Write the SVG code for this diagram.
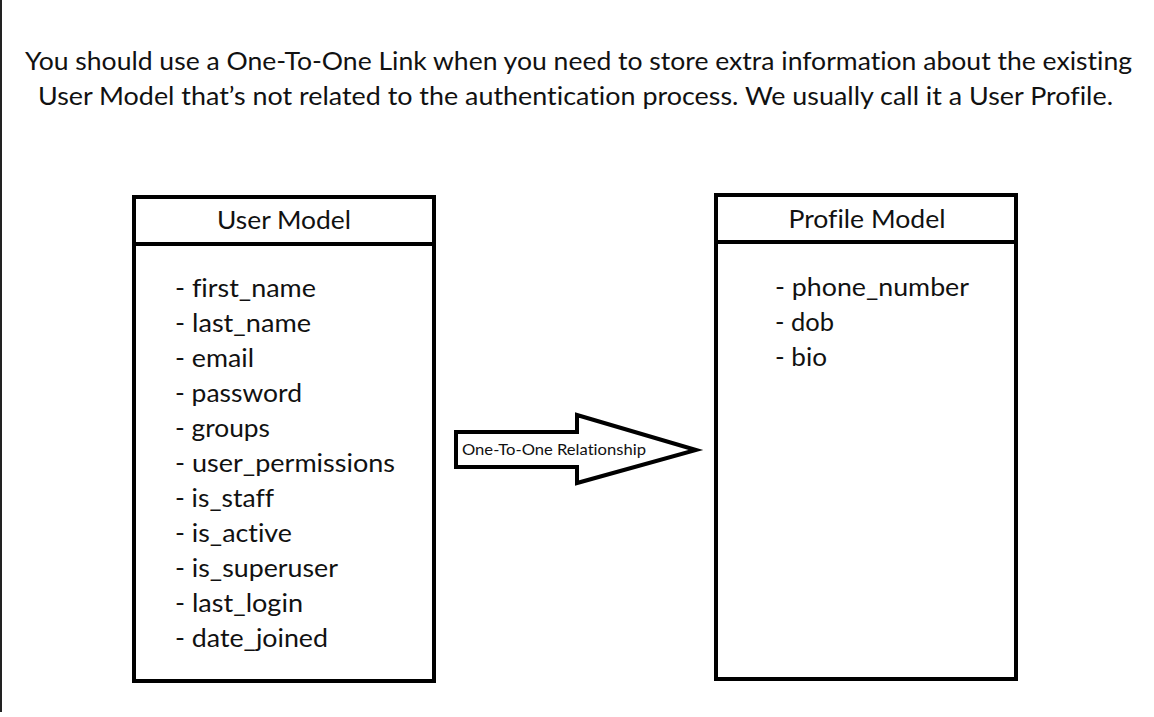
<svg xmlns="http://www.w3.org/2000/svg" width="1154" height="717" viewBox="0 0 1154 717">
<style>
text{font-family:Lato,"Open Sans","Noto Sans",sans-serif;fill:#111;font-variant-ligatures:none}
.t{font-size:25px}
.f{font-size:25px}
.h{font-size:25px;text-anchor:middle}
.box{fill:#fff;stroke:#000;stroke-width:4}
.lbl{font-size:15px}
</style>
<rect x="0" y="0" width="1154" height="717" fill="#fff"/>
<line x1="1" y1="0" x2="1" y2="712" stroke="#222" stroke-width="2"/>
<g id="caption">
<text class="t" x="25" y="70" textLength="1107" lengthAdjust="spacingAndGlyphs">You should use a One-To-One Link when you need to store extra information about the existing</text>
<text class="t" x="38" y="105" textLength="1075" lengthAdjust="spacingAndGlyphs">User Model that’s not related to the authentication process. We usually call it a User Profile.</text>
</g>
<g id="user-model">
<rect class="box" x="134" y="197" width="300" height="484"/>
<line x1="134" y1="244" x2="434" y2="244" stroke="#000" stroke-width="4"/>
<text class="h" x="284" y="229" textLength="134" lengthAdjust="spacingAndGlyphs">User Model</text>
<text class="f" x="175" y="297" textLength="141" lengthAdjust="spacingAndGlyphs">- first_name</text>
<text class="f" x="175" y="332" textLength="136" lengthAdjust="spacingAndGlyphs">- last_name</text>
<text class="f" x="175" y="367" textLength="79" lengthAdjust="spacingAndGlyphs">- email</text>
<text class="f" x="175" y="402" textLength="127" lengthAdjust="spacingAndGlyphs">- password</text>
<text class="f" x="175" y="437" textLength="95" lengthAdjust="spacingAndGlyphs">- groups</text>
<text class="f" x="175" y="472" textLength="220" lengthAdjust="spacingAndGlyphs">- user_permissions</text>
<text class="f" x="175" y="507" textLength="99" lengthAdjust="spacingAndGlyphs">- is_staff</text>
<text class="f" x="175" y="542" textLength="117" lengthAdjust="spacingAndGlyphs">- is_active</text>
<text class="f" x="175" y="577" textLength="163" lengthAdjust="spacingAndGlyphs">- is_superuser</text>
<text class="f" x="175" y="612" textLength="128" lengthAdjust="spacingAndGlyphs">- last_login</text>
<text class="f" x="175" y="647" textLength="153" lengthAdjust="spacingAndGlyphs">- date_joined</text>
</g>
<g id="profile-model">
<rect class="box" x="716" y="195" width="300" height="484"/>
<line x1="716" y1="242" x2="1016" y2="242" stroke="#000" stroke-width="4"/>
<text class="h" x="867" y="228" textLength="157" lengthAdjust="spacingAndGlyphs">Profile Model</text>
<text class="f" x="775" y="296" textLength="194" lengthAdjust="spacingAndGlyphs">- phone_number</text>
<text class="f" x="775" y="331" textLength="59" lengthAdjust="spacingAndGlyphs">- dob</text>
<text class="f" x="775" y="366" textLength="52" lengthAdjust="spacingAndGlyphs">- bio</text>
</g>
<g id="connectors">
<polygon points="456,432 577,432 577,415 696,450 577,483 577,467 456,467" fill="#fff" stroke="#000" stroke-width="4" stroke-linejoin="miter"/>
<text class="lbl" x="462" y="455" textLength="184" lengthAdjust="spacingAndGlyphs">One-To-One Relationship</text>
</g>
</svg>
